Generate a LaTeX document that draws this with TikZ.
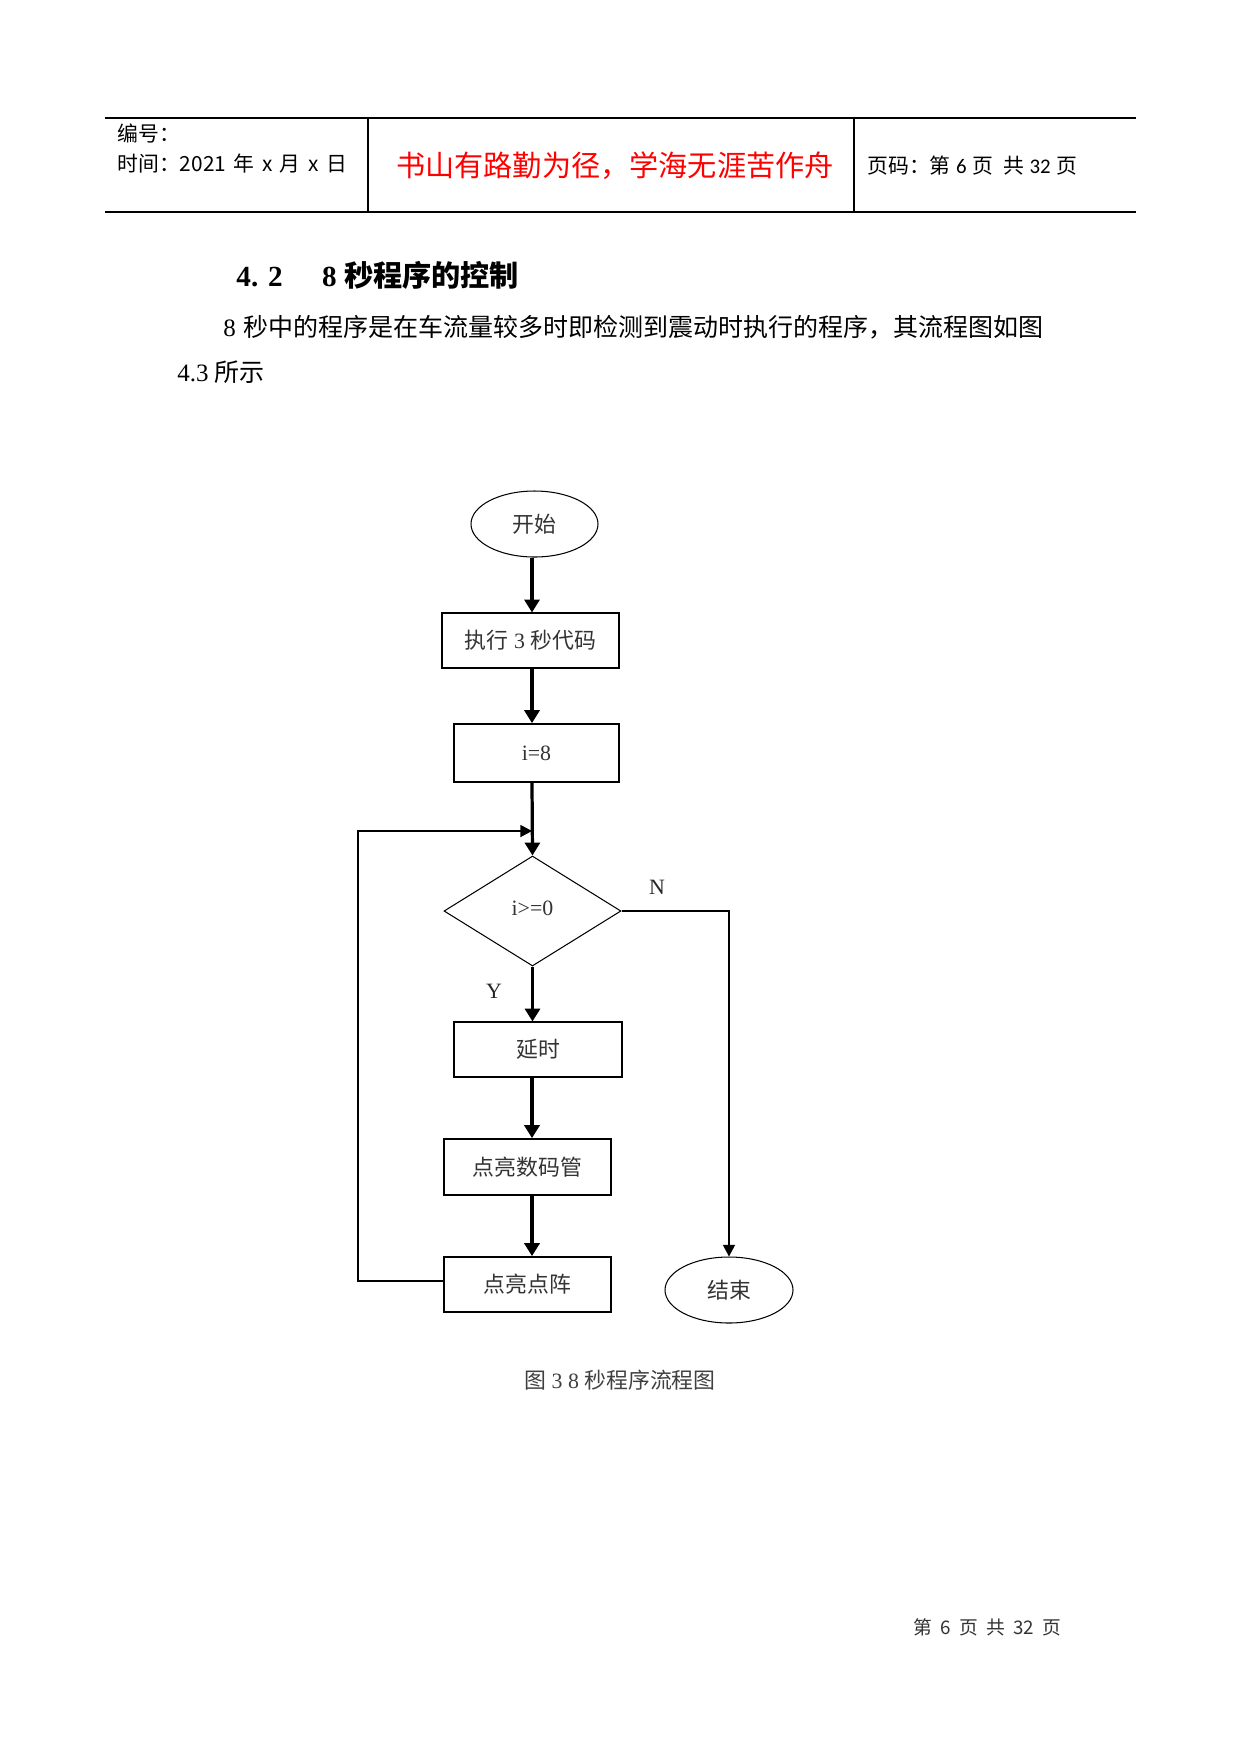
\documentclass[tikz,border=0pt]{standalone}
\usepackage{fontspec}
\setmainfont{Liberation Serif}
\newfontfamily\cjk{Noto Sans CJK SC}
\newfontfamily\carl{Carlito}
\usetikzlibrary{shapes.geometric,arrows.meta}
\newcommand\fsz[1]{\fontsize{#1}{#1}\selectfont}
\newcommand\gap[1]{\hspace{#1}}
\begin{document}
\begin{tikzpicture}[x=0.48pt,y=-0.48pt,
  proc/.style={draw, rectangle, inner sep=0pt, font=\fsz{10.5}, text=black!80},
  thinbox/.style={proc, line width=0.5pt},
  thickbox/.style={proc, line width=0.85pt},
  term/.style={draw, ellipse, inner sep=0pt, line width=0.5pt, font=\fsz{10.5}, text=black!80},
  decis/.style={draw, diamond, inner sep=0pt, line width=0.5pt, font=\fsz{10.5}, text=black!80},
  mainarrow/.style={-{Triangle[width=7.2pt,length=6.2pt]}, line width=1.55pt},
  thinarrow/.style={-{Triangle[width=5.8pt,length=5.6pt]}, line width=0.7pt},
  rule/.style={line width=0.55pt},
  lbl/.style={font=\fsz{10.5}, text=black!85, inner sep=0pt}
]
\useasboundingbox (0,0) rectangle (1241,1755);
\fill[white] (0,0) rectangle (1241,1755);

% ---------- header table ----------
\draw[rule] (105,118) -- (1136,118);
\draw[rule] (105,212) -- (1136,212);
\draw[rule] (368,118) -- (368,212);
\draw[rule] (854,118) -- (854,212);
\node[anchor=west, inner sep=0pt, font=\cjk\fsz{10}] (hno) at (117,133) {编号：};
\node[anchor=west, inner sep=0pt, font=\cjk\fsz{10}] (htime) at (117,164)
  {时间：2021\gap{3.6pt}年\gap{3.6pt}x\gap{3.6pt}月\gap{3.6pt}x\gap{3.6pt}日};
\node[inner sep=0pt, font=\cjk\fsz{14}, text=red] (motto) at (615,166) {书山有路勤为径，学海无涯苦作舟};
\node[anchor=west, inner sep=0pt, font=\cjk\fsz{10}] (hpage) at (867,166)
  {页码：第\gap{2.6pt}{\carl 6}\gap{2.6pt}页\gap{5pt}共\gap{2.6pt}{\carl 32}\gap{2.6pt}页};

% ---------- heading and paragraph ----------
\node[anchor=west, inner sep=0pt, font=\fsz{14}] (head) at (236,275)
  {\bfseries 4. 2\hspace*{19pt}8\hspace{3.5pt}{\cjk\bfseries 秒程序的控制}};
\node[anchor=west, inner sep=0pt, font=\fsz{12}] (par1) at (223,327)
  {8\hspace{3.5pt}{\cjk 秒中的程序是在车流量较多时即检测到震动时执行的程序，其流程图如图}};
\node[anchor=west, inner sep=0pt, font=\fsz{12}] (par2) at (177,372)
  {4.3\hspace{3pt}{\cjk 所示}};

% ---------- flowchart ----------
\coordinate (ax) at (532,0);
\node[term, minimum width=127*0.48pt, minimum height=66*0.48pt] (start) at (534.5,524) {\cjk 开始};
\node[thinbox, minimum width=177*0.48pt, minimum height=55*0.48pt] (b1) at (530.5,640.5) {{\cjk 执行} 3 {\cjk 秒代码}};
\node[thickbox, minimum width=165*0.48pt, minimum height=58*0.48pt] (b2) at (536.5,753) {i=8};
\node[decis, minimum width=177*0.48pt, minimum height=110*0.48pt] (dia) at (532.5,911) {\raisebox{3pt}{i>=0}};
\node[thinbox, minimum width=168*0.48pt, minimum height=55*0.48pt] (b3) at (538,1049.5) {\cjk 延时};
\node[thickbox, minimum width=167*0.48pt, minimum height=56*0.48pt] (b4) at (527.5,1167) {\cjk 点亮数码管};
\node[thickbox, minimum width=167*0.48pt, minimum height=55*0.48pt] (b5) at (527.5,1284.5) {\cjk 点亮点阵};
\node[term, minimum width=128*0.48pt, minimum height=66*0.48pt] (end) at (729,1290) {\cjk 结束};

\node[lbl] (nlab) at (657,887) {N};
\node[lbl] (ylab) at (494,991) {Y};

\coordinate (jn) at (532,831);
\coordinate (lp) at (358,1281);

\draw[mainarrow] (start.south -| ax) -- (b1.north -| ax);
\draw[mainarrow] (b1.south -| ax) -- (b2.north -| ax);
\draw[mainarrow] (b2.south -| ax) -- (dia.north);
\draw[mainarrow] (dia.south) -- (b3.north -| dia.south);
\draw[mainarrow] (b3.south -| ax) -- (b4.north -| ax);
\draw[mainarrow] (b4.south -| ax) -- (b5.north -| ax);
\draw[thinarrow] (dia.east) -| (end.north);
\draw[thinarrow] (b5.west |- lp) -- (lp) |- (jn);

% ---------- caption and footer ----------
\node[inner sep=0pt, font=\fsz{10.5}, text=black!75] (cap) at (620,1380) {{\cjk 图} 3 8 {\cjk 秒程序流程图}};
\node[anchor=west, inner sep=0pt, font=\cjk\fsz{9}, text=black!80] (foot) at (913,1627)
  {第\gap{4pt}6\gap{4pt}页\gap{4pt}共\gap{4pt}32\gap{4pt}页};
\end{tikzpicture}
\end{document}
